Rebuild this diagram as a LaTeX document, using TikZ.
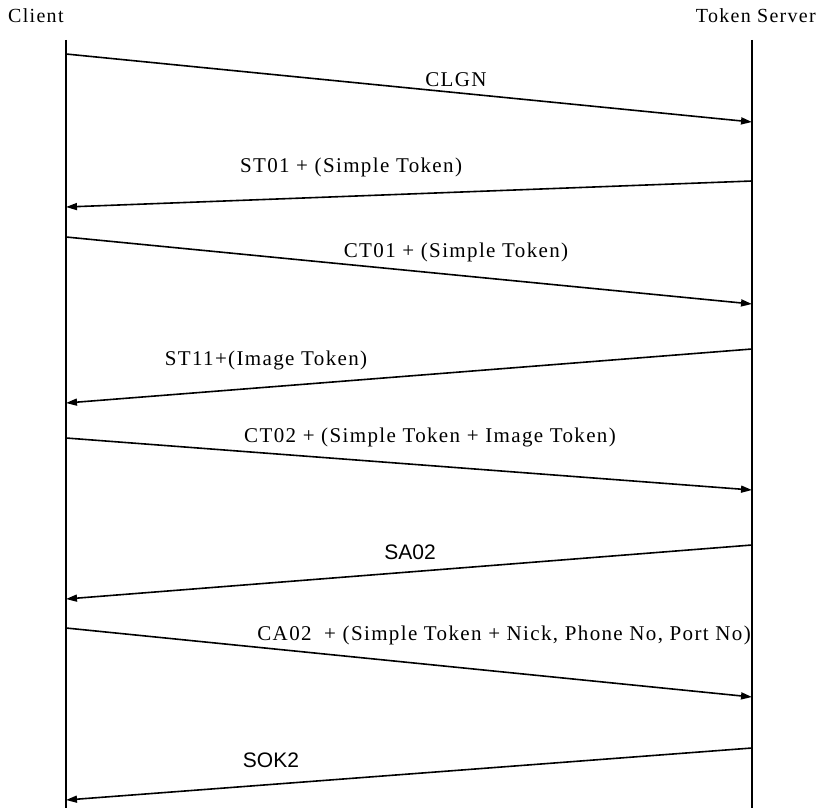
\documentclass[tikz,border=0pt]{standalone}
\usepackage{fontspec}
\setmainfont{Liberation Serif}[LetterSpace=6.5]
\newfontfamily\lblsans{Liberation Sans}
\usetikzlibrary{arrows.meta}
\tikzset{
  lifeline/.style={line width=1.8bp, black},
  msg/.style={line width=1.6bp, black, -{Triangle[length=11bp,width=7bp]}},
  lbl/.style={inner sep=0pt, font=\fontsize{21bp}{24bp}\selectfont},
  lblsf/.style={inner sep=0pt, font=\lblsans\fontsize{21bp}{24bp}\selectfont},
  actor/.style={inner sep=0pt, font=\fontsize{20bp}{23bp}\selectfont}
}
\begin{document}
\begin{tikzpicture}[x=1bp,y=-1bp]
\useasboundingbox (0,0) rectangle (817,808);
% actors
\node[actor, anchor=west] (client) at (8,16) {Client};
\node[actor, anchor=east] (server) at (816,16) {Token Server};
% lifelines
\coordinate (ct) at (66,40);  \coordinate (cb) at (66,808);
\coordinate (st) at (752,40); \coordinate (sb) at (752,808);
\draw[lifeline] (ct) -- (cb);
\draw[lifeline] (st) -- (sb);
% message end points
\coordinate (c1) at (66,54);   \coordinate (s1) at (752,122);
\coordinate (s2) at (752,181); \coordinate (c2) at (66,207);
\coordinate (c3) at (66,237);  \coordinate (s3) at (752,304);
\coordinate (s4) at (752,349); \coordinate (c4) at (66,403);
\coordinate (c5) at (66,438);  \coordinate (s5) at (752,490);
\coordinate (s6) at (752,545); \coordinate (c6) at (66,599);
\coordinate (c7) at (66,628);  \coordinate (s7) at (752,697);
\coordinate (s8) at (752,748); \coordinate (c8) at (66,800);
% messages
\draw[msg] (c1) -- (s1);
\draw[msg] (s2) -- (c2);
\draw[msg] (c3) -- (s3);
\draw[msg] (s4) -- (c4);
\draw[msg] (c5) -- (s5);
\draw[msg] (s6) -- (c6);
\draw[msg] (c7) -- (s7);
\draw[msg] (s8) -- (c8);
% labels
\node[lbl] (l1) at (456,80) {CLGN};
\node[lbl] (l2) at (351,167) {ST01 + (Simple Token)};
\node[lbl] (l3) at (456,252) {CT01 + (Simple Token)};
\node[lbl] (l4) at (266,360) {ST11+(Image Token)};
\node[lbl] (l5) at (430,437) {CT02 + (Simple Token + Image Token)};
\node[lblsf] (l6) at (410,552) {SA02};
\node[lbl, anchor=east] (l7) at (751,635) {CA02\hspace{6bp} + (Simple Token + Nick, Phone No, Port No)};
\node[lblsf] (l8) at (271,760) {SOK2};
\end{tikzpicture}
\end{document}
